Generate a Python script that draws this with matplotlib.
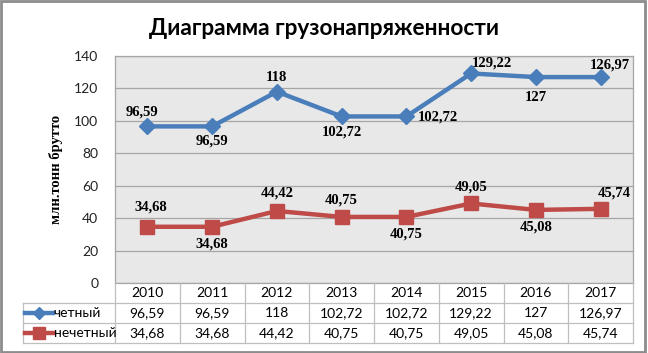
import numpy as np
from matplotlib import pyplot as plt
from matplotlib.lines import Line2D
from matplotlib.patches import Rectangle

# Data
years = ['2010', '2011', '2012', '2013', '2014', '2015', '2016', '2017']
even = [96.59, 96.59, 118, 102.72, 102.72, 129.22, 127, 126.97]
odd = [34.68, 34.68, 44.42, 40.75, 40.75, 49.05, 45.08, 45.74]
even_txt = ['96,59', '96,59', '118', '102,72', '102,72', '129,22', '127', '126,97']
odd_txt = ['34,68', '34,68', '44,42', '40,75', '40,75', '49,05', '45,08', '45,74']
series_names = ['четный', 'нечетный']

# label offsets in pixels (dx, dy), dy positive = up
even_off = [(-5, 14), (0, -15), (0, 14), (0, -16), (32, -1), (21, 10), (0, -20), (9, 12)]
odd_off = [(3, 20), (0, -17), (0, 18), (0, 17), (0, -17), (0, 16), (0, -17), (14, 16)]

blue = '#4A7EBB'
red = '#BE4B48'
W, H = 648, 353
P_L, P_R, P_T, P_B = 115, 633, 56, 283   # plot area in pixels
T_L, T_B = 23, 343                       # table left / bottom

fig = plt.figure(figsize=(6.48, 3.53), dpi=100)
fig.patch.set_facecolor('white')

def fx(px):
    return px / W

def fy(py):
    return 1 - py / H

ax = fig.add_axes([fx(P_L), fy(P_B), fx(P_R) - fx(P_L), fy(P_T) - fy(P_B)])
ax.set_facecolor('#E8E8E8')
x = np.arange(len(years))
ax.plot(x, even, color=blue, lw=3.2, marker='D', markersize=8, mec=blue, zorder=3)
ax.plot(x, odd, color=red, lw=3.2, marker='s', markersize=10, mec=red, zorder=3)

for xi, v, t, (dx, dy) in zip(x, even, even_txt, even_off):
    ax.annotate(t, (xi, v), xytext=(dx * 0.72, dy * 0.72), textcoords='offset points',
                ha='center', va='center', fontsize=10.5, fontweight='bold',
                family='Liberation Serif', zorder=4)
for xi, v, t, (dx, dy) in zip(x, odd, odd_txt, odd_off):
    ax.annotate(t, (xi, v), xytext=(dx * 0.72, dy * 0.72), textcoords='offset points',
                ha='center', va='center', fontsize=10.5, fontweight='bold',
                family='Liberation Serif', zorder=4)

ax.set_xlim(-0.5, len(years) - 0.5)
ax.set_ylim(0, 140)
ax.set_yticks(np.arange(0, 141, 20))
ax.set_xticks([])
ax.grid(True, axis='y', color='#A6A6A6', linewidth=0.9)
ax.set_axisbelow(True)
ax.tick_params(axis='y', length=0, pad=12, labelsize=10, labelcolor='#222222')
for lab in ax.get_yticklabels():
    lab.set_family('Lato')
for s in ax.spines.values():
    s.set_color('#A6A6A6')
    s.set_linewidth(0.9)

ax.set_ylabel('млн.тонн брутто', family='Liberation Serif', fontweight='bold',
              fontsize=10.5, labelpad=8)

# data table under the plot
colw = (P_R - P_L) / len(years)
left = -0.5 - (P_L - T_L) / colw
tab = fig.add_axes([fx(T_L), fy(T_B), fx(P_R) - fx(T_L), fy(P_B) - fy(T_B)])
tab.set_xlim(left, len(years) - 0.5)
tab.set_ylim(0, 3)
tab.axis('off')
lc = '#BFBFBF'
for k in range(len(years) + 1):
    tab.plot([k - 0.5, k - 0.5], [0, 3], color=lc, lw=0.9, clip_on=False)
tab.plot([left, left], [0, 2], color=lc, lw=0.9, clip_on=False)
for yy in (0, 1, 2):
    tab.plot([left, len(years) - 0.5], [yy, yy], color=lc, lw=0.9, clip_on=False)

for i, yr in enumerate(years):
    tab.text(i, 2.5, yr, ha='center', va='center', fontsize=10, family='Lato')
    tab.text(i, 1.5, even_txt[i], ha='center', va='center', fontsize=10, family='Lato')
    tab.text(i, 0.5, odd_txt[i], ha='center', va='center', fontsize=10, family='Lato')

# legend keys in row headers
k0 = left + 2 / colw
k1 = left + 30 / colw
tab.add_line(Line2D([k0, k1], [1.5, 1.5], color=blue, lw=3.2, clip_on=False))
tab.add_line(Line2D([(k0 + k1) / 2], [1.5], color=blue, marker='D', markersize=6,
                    lw=0, clip_on=False))
tab.add_line(Line2D([k0, k1], [0.5, 0.5], color=red, lw=3.2, clip_on=False))
tab.add_line(Line2D([(k0 + k1) / 2], [0.5], color=red, marker='s', markersize=8,
                    lw=0, clip_on=False))
tab.text(k1 + 1 / colw, 1.5, series_names[0], ha='left', va='center', fontsize=10, family='Lato')
tab.text(k1 + 1 / colw, 0.5, series_names[1], ha='left', va='center', fontsize=10, family='Lato')

# title
fig.text(0.5, fy(35), 'Диаграмма грузонапряженности', ha='center', va='baseline',
         fontsize=16.3, fontweight='bold', family='Lato')

# outer frame
fig.patches.append(Rectangle((0.002, 0.004), 0.994, 0.993, transform=fig.transFigure,
                             fill=False, edgecolor='#8C8C8C', linewidth=2))

fig.savefig('out.png', dpi=100)
